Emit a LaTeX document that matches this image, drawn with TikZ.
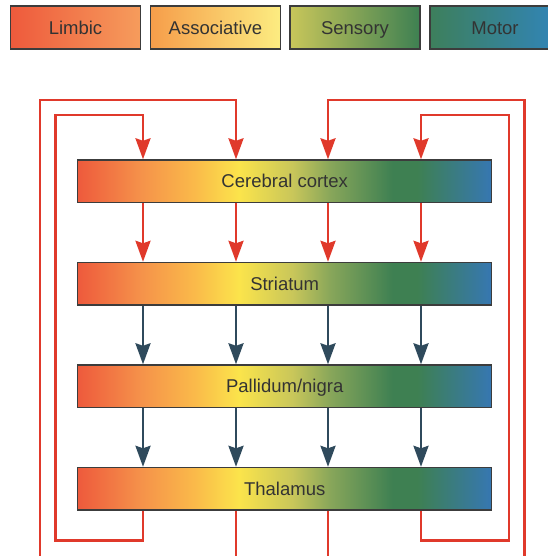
\documentclass[tikz,border=0pt]{standalone}
\usepackage{fontspec}
\setmainfont{Liberation Sans}
\usetikzlibrary{arrows.meta}

\definecolor{loopRed}{HTML}{E0392B}
\definecolor{arrowSlate}{HTML}{2F4A5C}
\definecolor{edgeGray}{HTML}{3C3C3C}
\definecolor{labelGray}{HTML}{333333}
% Farben des Verlaufs
\definecolor{shRed}{HTML}{EE5A3C}
\definecolor{shOrange}{HTML}{F5914A}
\definecolor{shAmber}{HTML}{FAB94A}
\definecolor{shYellow}{HTML}{FBE44B}
\definecolor{shOlive}{HTML}{C8C65A}
\definecolor{shMoss}{HTML}{88A65A}
\definecolor{shGreen}{HTML}{3E8052}
\definecolor{shBlue}{HTML}{3677B2}

\pgfdeclarehorizontalshading{basal}{100bp}{color(0bp)=(shRed); color(25bp)=(shRed);
  color(32.5bp)=(shOrange); color(39bp)=(shAmber); color(44.5bp)=(shYellow);
  color(51bp)=(shOlive); color(55.5bp)=(shMoss); color(63bp)=(shGreen);
  color(66bp)=(shGreen); color(75bp)=(shBlue); color(100bp)=(shBlue)}

\begin{document}
\begin{tikzpicture}[x=1pt, y=-1pt,
    every node/.style={font=\fontsize{18.5}{22}\selectfont, text=labelGray, text height=13.2pt, text depth=0pt},
    key/.style={draw=edgeGray, line width=1.4pt, minimum width=130pt, minimum height=43pt, inner sep=0pt},
    bar/.style={draw=edgeGray, line width=1.4pt, shade, shading=basal, minimum width=414pt, minimum height=42.5pt, inner sep=0pt},
    redline/.style={draw=loopRed, line width=2.6pt},
    redtip/.style={-{Stealth[length=21pt, width=15pt, inset=2.5pt]}},
    slatearrow/.style={draw=arrowSlate, line width=2.6pt, -{Stealth[length=21pt, width=15pt, inset=2.5pt]}}]
  \useasboundingbox (0,0) rectangle (547,556);

  % 1. Legende oben
  \node[key, left color=shRed, middle color=shRed!80!shOrange, right color=shOrange!90!white] (limbic) at (75.5,27.5) {Limbic};
  \node[key, left color=shOrange!85!shYellow, middle color=shYellow, right color=shYellow!70!white] (assoc) at (215.5,27.5) {Associative};
  \node[key, left color=shOlive, middle color=shMoss, right color=shGreen] (sensory) at (355,27.5) {Sensory};
  \node[key, left color=shGreen!90!shBlue, middle color=shBlue, right color=shBlue!90!cyan] (motor) at (495,27.5) {Motor};

  % 2. Vier Ebenen
  \node[bar] (cortex) at (284.7,181.25) {Cerebral cortex};
  \node[bar] (striatum) at (284.7,283.75) {Striatum};
  \node[bar] (pallidum) at (284.7,386.25) {Pallidum/nigra};
  \node[bar] (thalamus) at (284.7,488.75) {Thalamus};

  % Spalten der Schleifen
  \coordinate (lim) at (143,0);
  \coordinate (ass) at (236,0);
  \coordinate (sen) at (328,0);
  \coordinate (mot) at (421,0);

  % 3. Pfeile zwischen den Ebenen
  \foreach \c in {lim,ass,sen,mot}{
    \draw[redline, redtip] (cortex.south -| \c) -- (striatum.north -| \c);
    \draw[slatearrow] (striatum.south -| \c) -- (pallidum.north -| \c);
    \draw[slatearrow] (pallidum.south -| \c) -- (thalamus.north -| \c);
  }

  % 4. Rueckkopplung zum Cortex (innen und aussen)
  \coordinate (inL) at (55.3,540.5);  \coordinate (inLtop) at (55.3,115);
  \coordinate (outL) at (40,560);     \coordinate (outLtop) at (40,100);
  \coordinate (inR) at (509,540.5);   \coordinate (inRtop) at (509,115);
  \coordinate (outR) at (524.3,560);  \coordinate (outRtop) at (524.3,100);

  \draw[redline, redtip] (thalamus.south -| lim) |- (inL) -- (inLtop) -| (cortex.north -| lim);
  \draw[redline, redtip] (thalamus.south -| ass) |- (outL) -- (outLtop) -| (cortex.north -| ass);
  \draw[redline, redtip] (thalamus.south -| sen) |- (outR) -- (outRtop) -| (cortex.north -| sen);
  \draw[redline, redtip] (thalamus.south -| mot) |- (inR) -- (inRtop) -| (cortex.north -| mot);
\end{tikzpicture}
\end{document}
